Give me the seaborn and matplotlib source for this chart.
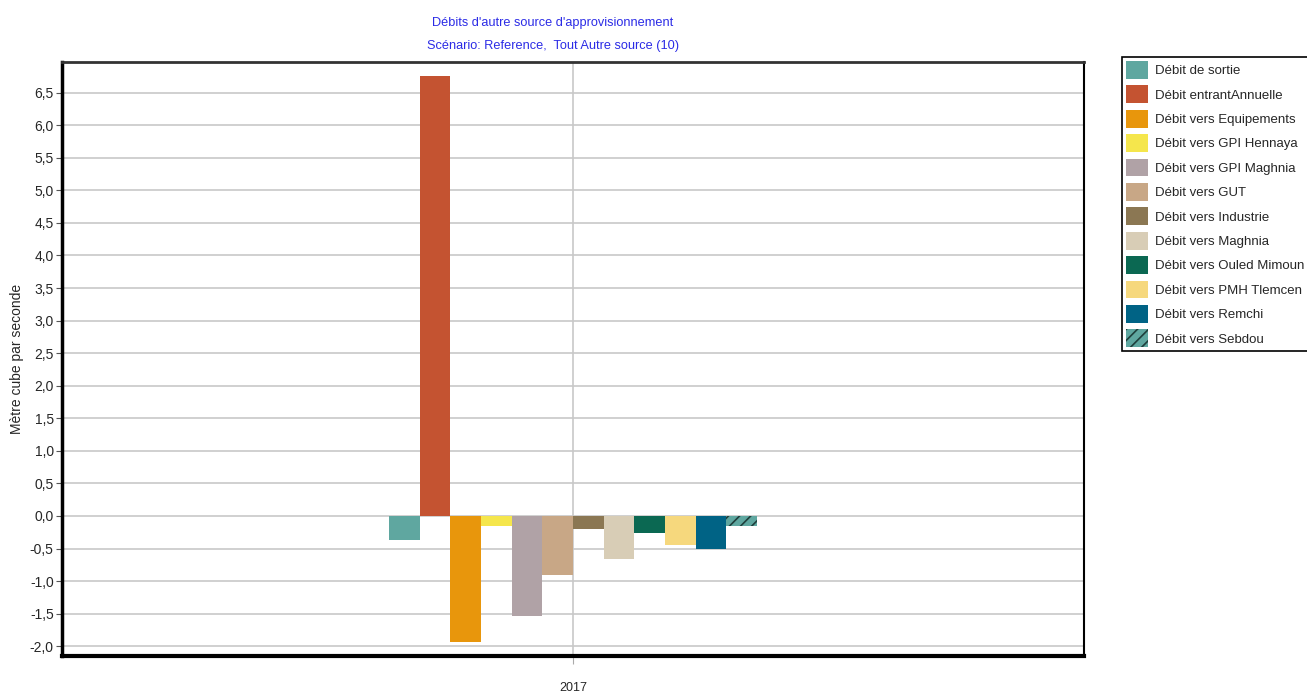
import matplotlib
matplotlib.use("Agg")
import matplotlib.pyplot as plt
from matplotlib.patches import Patch
from matplotlib.ticker import FuncFormatter, MultipleLocator
import pandas as pd
import seaborn as sns

# Data
annee = ["2017"]
series = [
    "Débit de sortie",
    "Débit entrantAnnuelle",
    "Débit vers Equipements",
    "Débit vers GPI Hennaya",
    "Débit vers GPI Maghnia",
    "Débit vers GUT",
    "Débit vers Industrie",
    "Débit vers Maghnia",
    "Débit vers Ouled Mimoun",
    "Débit vers PMH Tlemcen",
    "Débit vers Remchi",
    "Débit vers Sebdou",
]
valeurs = [-0.37, 6.76, -1.93, -0.16, -1.54, -0.90, -0.20, -0.66, -0.26, -0.44, -0.50, -0.15]
couleurs = [
    "#5fa7a0", "#c45331", "#e8960c", "#f5e64c", "#b0a2a6", "#c8a786",
    "#8b7753", "#d8cdb6", "#0b6852", "#f6d87d", "#006385", "#5fa7a0",
]

sns.set_style("white")
plt.rcParams["font.family"] = ["Liberation Sans", "DejaVu Sans"]
plt.rcParams["hatch.color"] = "#1f3f3c"
plt.rcParams["hatch.linewidth"] = 1.2

df = pd.DataFrame({"annee": annee * len(series), "serie": series, "valeur": valeurs})

fig = plt.figure(figsize=(13.07, 6.97), dpi=100)
ax = fig.add_axes([62 / 1307, 1 - 656 / 697, (1084 - 62) / 1307, (656 - 62) / 697])

sns.barplot(
    data=df, x="annee", y="valeur", hue="serie", hue_order=series,
    palette=couleurs, width=0.36, saturation=1, legend=False, ax=ax,
    errorbar=None, linewidth=0,
)

# Hatched last series
ax.patches[-1].set_hatch("///")
ax.patches[-1].set_edgecolor("#1f3f3c")
ax.patches[-1].set_linewidth(0)

ax.set_xlim(-0.5, 0.5)
ax.set_ylim(-2.15, 6.97)
ax.yaxis.set_major_locator(MultipleLocator(0.5))
ax.yaxis.set_major_formatter(FuncFormatter(lambda v, _: f"{v:.1f}".replace(".", ",")))
ax.grid(True, axis="both", color="#c8c8c8", linewidth=1.2)
ax.set_axisbelow(True)

for side, lw, col in [("left", 2.5, "black"), ("bottom", 3.0, "black"),
                      ("right", 1.5, "black"), ("top", 2.0, "#333333")]:
    ax.spines[side].set_visible(True)
    ax.spines[side].set_linewidth(lw)
    ax.spines[side].set_color(col)

ax.tick_params(axis="y", left=True, length=4, width=0.8, color="#555555",
               labelsize=10, pad=2)
ax.tick_params(axis="x", bottom=True, length=6, width=0.8, color="#aaaaaa",
               labelsize=9, pad=13)
ax.set_xlabel("")
ax.set_ylabel("Mètre cube par seconde", fontsize=10, labelpad=4)

fig.text(553 / 1307, 1 - 23 / 697, "Débits d'autre source d'approvisionnement",
         ha="center", va="center", color="#2b2be6", fontsize=9.2)
fig.text(553 / 1307, 1 - 46 / 697, "Scénario: Reference,  Tout Autre source (10)",
         ha="center", va="center", color="#2b2be6", fontsize=9.2)

handles = []
for s, c in zip(series, couleurs):
    if s == series[-1]:
        handles.append(Patch(facecolor=c, edgecolor="#1f3f3c", hatch="///",
                             linewidth=0, label=s))
    else:
        handles.append(Patch(facecolor=c, edgecolor="none", label=s))

leg = fig.legend(
    handles=handles, loc="upper left",
    bbox_to_anchor=(1122 / 1307, 1 - 57 / 697),
    frameon=True, fancybox=False, framealpha=1, edgecolor="black",
    prop={"size": 9.5},
    handlelength=1.7, handleheight=1.7, handletextpad=0.5,
    labelspacing=0.5, borderpad=0.3, borderaxespad=0,
)
leg.get_frame().set_linewidth(1.2)

fig.savefig("out.png", dpi=100)
